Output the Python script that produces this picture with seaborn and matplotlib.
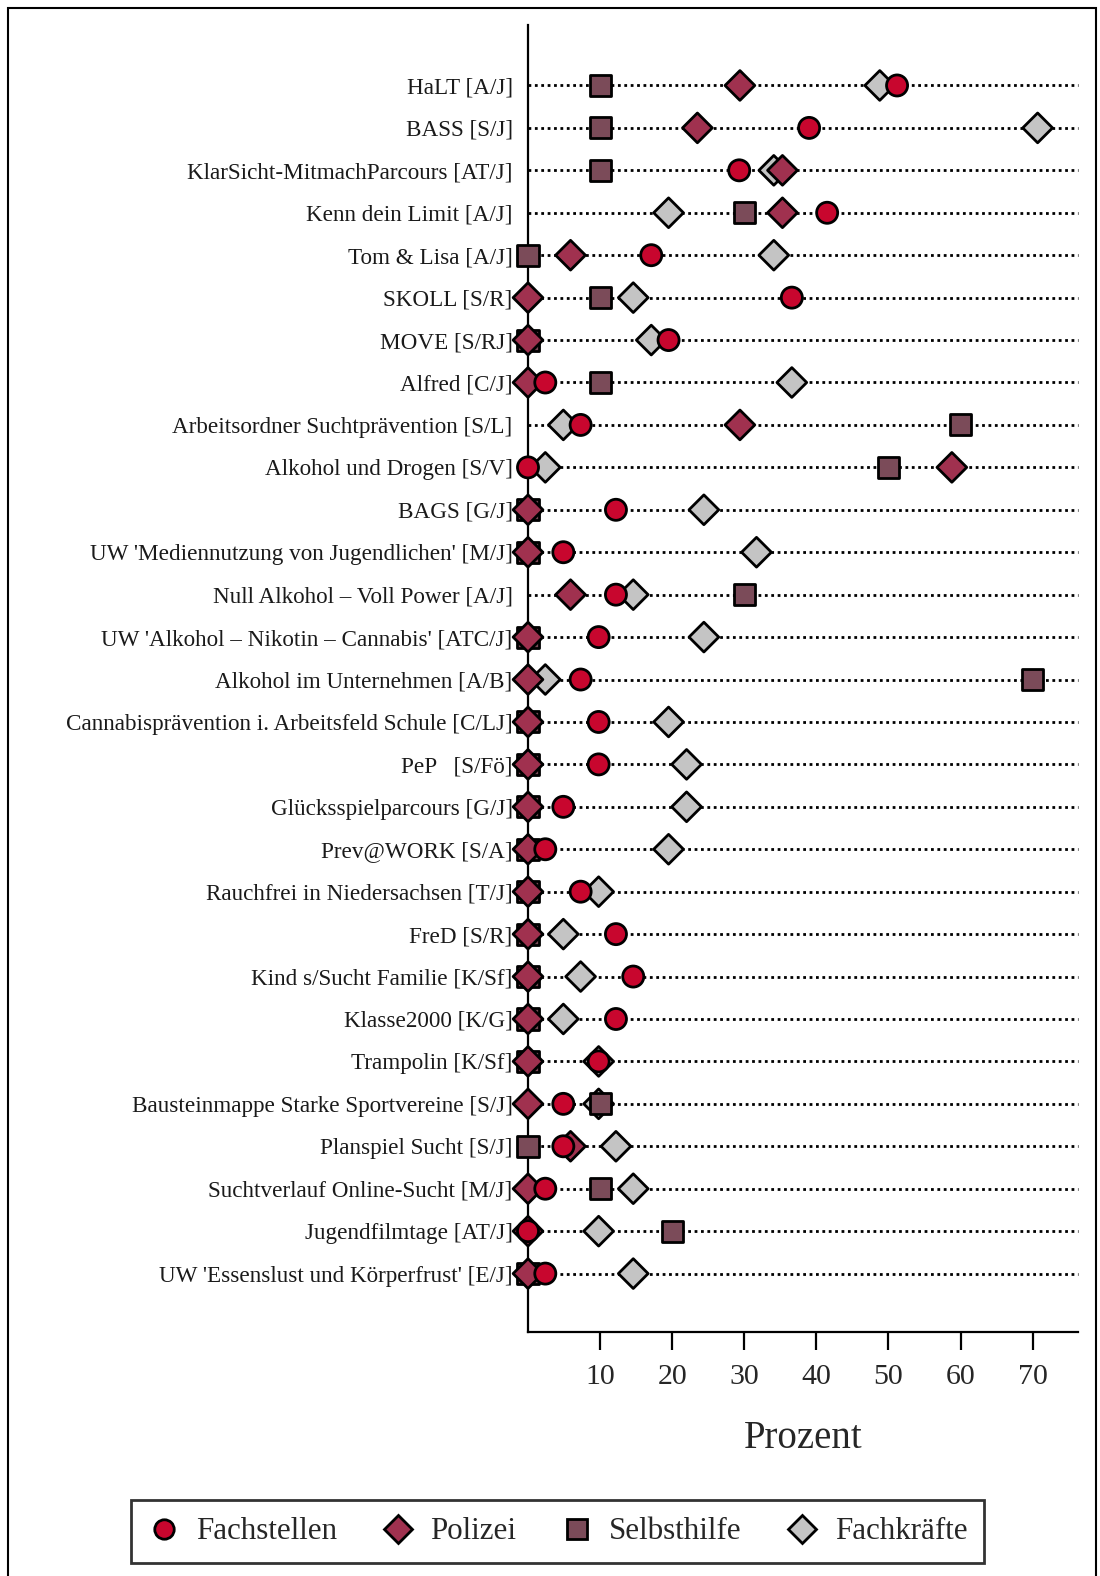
import pandas as pd
import matplotlib.pyplot as plt
import seaborn as sns
from matplotlib.patches import Rectangle

programs = [
    "HaLT [A/J]", "BASS [S/J]", "KlarSicht-MitmachParcours [AT/J]", "Kenn dein Limit [A/J]",
    "Tom & Lisa [A/J]", "SKOLL [S/R]", "MOVE [S/RJ]", "Alfred [C/J]",
    "Arbeitsordner Suchtprävention [S/L]", "Alkohol und Drogen [S/V]", "BAGS [G/J]",
    "UW 'Mediennutzung von Jugendlichen' [M/J]", "Null Alkohol – Voll Power [A/J]",
    "UW 'Alkohol – Nikotin – Cannabis' [ATC/J]", "Alkohol im Unternehmen [A/B]",
    "Cannabisprävention i. Arbeitsfeld Schule [C/LJ]", "PeP   [S/Fö]", "Glücksspielparcours [G/J]",
    "Prev@WORK [S/A]", "Rauchfrei in Niedersachsen [T/J]", "FreD [S/R]", "Kind s/Sucht Familie [K/Sf]",
    "Klasse2000 [K/G]", "Trampolin [K/Sf]", "Bausteinmappe Starke Sportvereine [S/J]",
    "Planspiel Sucht [S/J]", "Suchtverlauf Online-Sucht [M/J]", "Jugendfilmtage [AT/J]",
    "UW 'Essenslust und Körperfrust' [E/J]",
]

fachstellen = [51.2, 39.0, 29.3, 41.5, 17.1, 36.6, 19.5, 2.4, 7.3, 0.0, 12.2, 4.9, 12.2, 9.8, 7.3,
               9.8, 9.8, 4.9, 2.4, 7.3, 12.2, 14.6, 12.2, 9.8, 4.9, 4.9, 2.4, 0.0, 2.4]
polizei = [29.4, 23.5, 35.3, 35.3, 5.9, 0, 0, 0, 29.4, 58.8, 0, 0, 5.9, 0, 0,
           0, 0, 0, 0, 0, 0, 0, 0, 0, 0, 5.9, 0, 0, 0]
selbsthilfe = [10, 10, 10, 30, 0, 10, 0, 10, 60, 50, 0, 0, 30, 0, 70,
               0, 0, 0, 0, 0, 0, 0, 0, 0, 10, 0, 10, 20, 0]
fachkraefte = [48.8, 70.7, 34.1, 19.5, 34.1, 14.6, 17.1, 36.6, 4.9, 2.4, 24.4, 31.7, 14.6, 24.4, 2.4,
               19.5, 22.0, 22.0, 19.5, 9.8, 4.9, 7.3, 4.9, 9.8, 9.8, 12.2, 14.6, 9.8, 14.6]

groups = ["Fachstellen", "Polizei", "Selbsthilfe", "Fachkräfte"]
colors = {"Fachstellen": "#C8062E", "Polizei": "#A0314F", "Selbsthilfe": "#7B4B59", "Fachkräfte": "#C4C4C4"}
markers = {"Fachstellen": "o", "Polizei": "D", "Selbsthilfe": "s", "Fachkräfte": "D"}

# draw order: grey diamonds first, red circles last (on top)
df = pd.concat([
    pd.DataFrame({"program": programs, "pct": fachkraefte, "group": "Fachkräfte"}),
    pd.DataFrame({"program": programs, "pct": selbsthilfe, "group": "Selbsthilfe"}),
    pd.DataFrame({"program": programs, "pct": polizei, "group": "Polizei"}),
    pd.DataFrame({"program": programs, "pct": fachstellen, "group": "Fachstellen"}),
], ignore_index=True)

sns.set_theme(style="white")
plt.rcParams['font.family'] = ['Liberation Serif', 'DejaVu Serif']

fig = plt.figure(figsize=(11, 15.76), dpi=100)
ax = fig.add_axes([0.48, 0.155, 0.50, 0.829])

xmax = 76.3
ax.hlines(programs, 0, xmax, colors="black", linestyles=(0, (1, 1.3)), linewidth=2, zorder=1)

sns.scatterplot(data=df, x="pct", y="program", hue="group", style="group",
                hue_order=groups, style_order=groups, palette=colors, markers=markers,
                s=230, edgecolor="black", linewidth=2, alpha=1, ax=ax, zorder=3)

ax.set_xlim(0, xmax)
ax.set_ylim(len(programs) - 1 + 1.37, -1.42)
ax.set_xticks([10, 20, 30, 40, 50, 60, 70])
ax.tick_params(axis="x", length=13, width=1.6, color="black", labelsize=21.5, pad=10, bottom=True)
ax.tick_params(axis="y", length=0, labelsize=16.7, pad=11)
for lbl in ax.get_yticklabels():
    lbl.set_color("#1a1a1a")
ax.set_ylabel("")
ax.set_xlabel("Prozent", fontsize=28, labelpad=22)
for side in ["top", "right"]:
    ax.spines[side].set_visible(False)
for side in ["left", "bottom"]:
    ax.spines[side].set_color("black")
    ax.spines[side].set_linewidth(1.6)
for coll in ax.collections:
    coll.set_clip_on(False)

handles, labels = ax.get_legend_handles_labels()
ax.legend_.remove()
for h in handles:
    h.set_markeredgecolor("black")
    h.set_markeredgewidth(2)
    h.set_markersize(14)
leg = fig.legend(handles, labels, loc="center", bbox_to_anchor=(0.507, 0.028), ncol=4,
                 fontsize=22.3, frameon=True, fancybox=False, edgecolor="black",
                 handlelength=1.0, handletextpad=0.55, columnspacing=1.45,
                 borderpad=0.55, borderaxespad=0)
leg.get_frame().set_linewidth(2)

fig.patches.append(Rectangle((0.007, -0.01), 0.989, 1.005, transform=fig.transFigure,
                             fill=False, edgecolor="black", linewidth=1.5))

plt.savefig("out.png", dpi=100)
